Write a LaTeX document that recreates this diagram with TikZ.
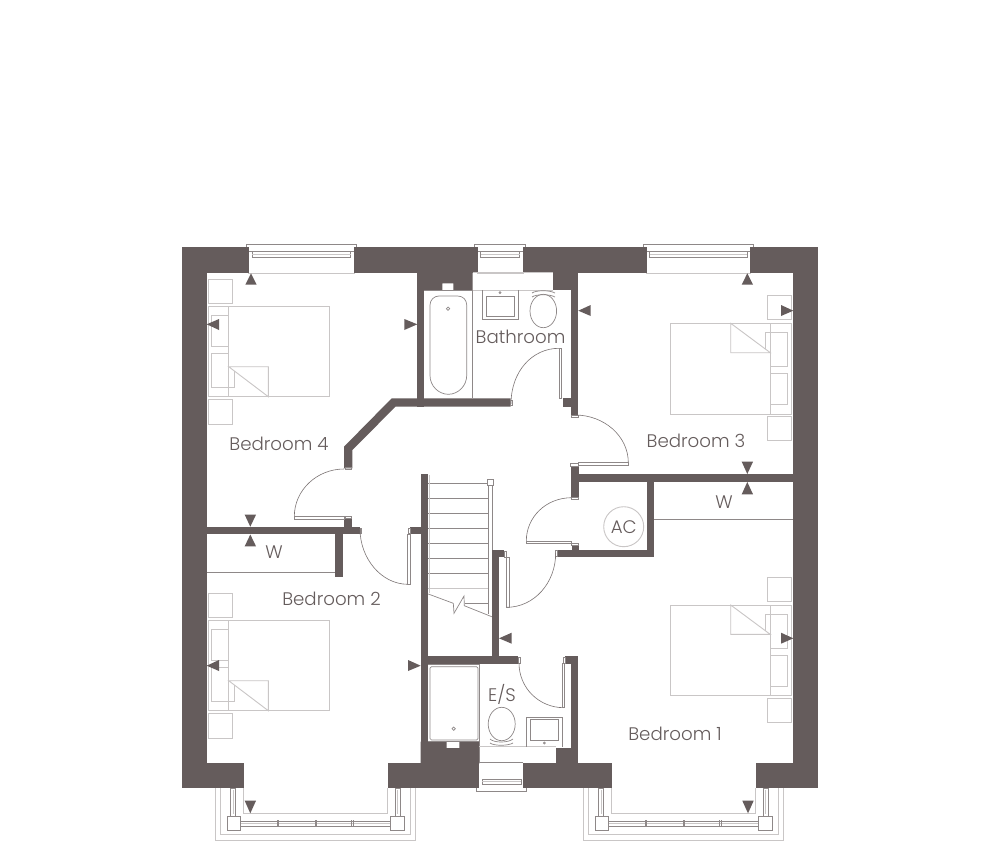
\documentclass[tikz,border=0pt]{standalone}
\usepackage{fontspec}
\setmainfont{Poppins}[UprightFont=* Light]
\definecolor{wallc}{HTML}{655C5C}
\definecolor{linec}{HTML}{8E8888}
\definecolor{lightc}{HTML}{C9C6C6}
\tikzset{
  wallfill/.style={fill=wallc,draw=none},
  thin line/.style={draw=linec,line width=0.7pt},
  arcline/.style={draw=wallc!85!white,line width=0.6pt},
  furn/.style={draw=lightc,line width=0.9pt},
  sani/.style={draw=linec,line width=0.7pt},
  wlight/.style={draw=lightc,line width=0.9pt},
  tri/.style={fill=wallc,draw=none},
  label/.style={text=wallc,font=\fontsize{18.2}{20}\selectfont,inner sep=0pt},
}
\newcommand{\wl}[4]{\fill[wallfill] (#1,#2) rectangle (#3,#4);}
\newcommand{\bedL}[1]{\begin{scope}[yshift=#1pt*-1]
 \draw[furn] (208.3,306) rectangle (329.3,396.7);
 \draw[furn] (228.7,306) -- (228.7,396.7);
 \draw[furn] (228.7,366.7) -- (268.3,366.7) -- (268.3,396.7) -- cycle;
 \draw[furn] (228.7,315) -- (211.3,315) -- (211.3,346.7) -- (228.7,346.7);
 \draw[furn] (228.7,353.3) -- (211.3,353.3) -- (211.3,387.7) -- (234.7,387.7) -- (234.7,371.2);
 \draw[furn] (208.3,279) rectangle (232.7,303.3);
 \draw[furn] (208.3,399.3) rectangle (232.7,424.3);
\end{scope}}
\newcommand{\bedR}[1]{\begin{scope}[yshift=#1pt*-1]
 \draw[furn] (670.3,323.3) rectangle (791.3,414);
 \draw[furn] (770.3,323.3) -- (770.3,414);
 \draw[furn] (730.7,323.3) -- (730.7,352.7) -- (770.3,352.7) -- cycle;
 \draw[furn] (765,349) -- (765,332.3) -- (787.7,332.3) -- (787.7,366.3) -- (770.3,366.3);
 \draw[furn] (770.3,373.3) -- (787.7,373.3) -- (787.7,404.3) -- (770.3,404.3);
 \draw[furn] (767,295.3) rectangle (791.3,319.7);
 \draw[furn] (767,416.3) rectangle (791.3,440.7);
\end{scope}}
\newcommand{\winT}[2]{%
 \draw[thin line] (#1-3,247.3) -- (#1-3,244.3) -- (#2+3,244.3) -- (#2+3,247.3);
 \draw[thin line] (#1,251.7) -- (#2,251.7);
 \draw[thin line] (#1+3,251.7) rectangle (#2-3,257.5);
 \draw[wlight] (#1+3,254.5) -- (#2-3,254.5);
 \draw[wlight] (#1-0.5,247.3) -- (#1-0.5,273.7) -- (#2+0.5,273.7) -- (#2+0.5,247.3);
}
\newcommand{\bay}[1]{\begin{scope}[xshift=#1pt]
 \draw[wlight] (215.3,788) -- (215.3,840.7) -- (415.7,840.7) -- (415.7,788);
 \draw[wlight] (220.3,788) -- (220.3,834.3) -- (410,834.3) -- (410,788);
 \draw[wlight] (243.7,788) -- (243.7,813.3) -- (387.7,813.3) -- (387.7,788);
 \draw[thin line] (227.3,816.7) rectangle (240.7,830);
 \draw[thin line] (390.7,816.7) rectangle (404,830);
 \draw[thin line] (230.7,788) rectangle (235.7,816.7);
 \draw[thin line] (395,788) rectangle (400,816.7);
 \draw[wlight] (233.2,790) -- (233.2,814);
 \draw[wlight] (397.5,790) -- (397.5,814);
 \draw[thin line] (240.7,821) rectangle (390.7,826);
 \draw[wlight] (241,823.5) -- (390,823.5);
 \foreach \tx in {277.3,315,351.7} \draw[thin line] (\tx,820) -- (\tx,827) (\tx+1.5,820) -- (\tx+1.5,827);
\end{scope}}
\begin{document}
\begin{tikzpicture}[x=1pt,y=-1pt]
\useasboundingbox (0,0) rectangle (1000,853);
\fill[white] (0,0) rectangle (1000,853);

% ---------- furniture ----------
\bedL{0}
\bedL{314}
\bedR{0}
\bedR{281.7}

% ---------- windows ----------
\winT{249.3}{353.5}
\winT{477.5}{522.8}
\winT{646.7}{750}
\bay{0}
\bay{368}
\draw[thin line] (476,788) -- (476,791) -- (526.7,791) -- (526.7,788);
\draw[thin line] (479.3,762.3) -- (523.3,762.3);
\draw[thin line] (482,779) rectangle (521,784);
\draw[wlight] (482,781.5) -- (521,781.5);

% ---------- walls ----------
\wl{182}{247.3}{206.5}{788.3}
\wl{182}{247.3}{249.3}{272.5}
\wl{353.5}{247.3}{477.5}{272.5}
\wl{522.8}{247.3}{646.7}{272.5}
\wl{750}{247.3}{818}{272.5}
\wl{793.3}{247.3}{818}{788.3}
\wl{182}{763.3}{243.7}{788.3}
\wl{387.7}{763.3}{479.3}{788.3}
\wl{523.3}{763.3}{611.7}{788.3}
\wl{756}{763.3}{818}{788.3}
\wl{417.3}{272}{424}{406.7}
\fill[wallfill] (417.3,272) -- (472.7,272) -- (472.7,290) -- (453.3,290) -- (453.3,283.3) -- (442.3,283.3) -- (442.3,290) -- (417.3,290) -- cycle;
\fill[wallfill] (510.7,398.3) -- (391.7,398.3) -- (344,446.7) -- (344,468.3) -- (352.3,468.3) -- (352.3,450) -- (395.5,406.7) -- (510.7,406.7) -- cycle;
\wl{553.3}{272}{578.3}{290}
\wl{570.7}{272}{578.3}{415}
\wl{562.7}{398.3}{571}{406.7}
\wl{571}{466.7}{578.7}{497.3}
\wl{571}{474.3}{793.5}{482}
\wl{646.7}{474.3}{654.3}{557.3}
\wl{557.7}{550}{654.3}{557.3}
\wl{571.7}{545}{578.7}{550}
\wl{206.5}{526.7}{360}{534.3}
\wl{335}{526.7}{342.7}{577.3}
\wl{344}{518}{352.3}{527}
\wl{410}{526.7}{421}{534.3}
\wl{420.7}{474}{428.3}{763.3}
\wl{491.7}{550}{499.3}{664}
\wl{491.7}{550}{504}{557.3}
\wl{428}{656}{518.3}{664}
\wl{565}{656}{578.3}{664}
\wl{570.7}{656}{578.3}{763.3}
\wl{555.7}{748}{578.3}{763.3}
\fill[wallfill] (420.7,741.7) -- (446.7,741.7) -- (446.7,748) -- (459.3,748) -- (459.3,741.7) -- (479.3,741.7) -- (479.3,763.5) -- (420.7,763.5) -- cycle;

% ---------- door jambs ----------
\draw[thin line] (504,551) rectangle (506.7,557);
\draw[thin line] (570,463) rectangle (578,466.5);
\draw[thin line] (571.5,415) rectangle (578,417);
\draw[thin line] (345,516.5) rectangle (351.5,518);
\draw[thin line] (345,467.5) rectangle (351.5,469.5);
\draw[thin line] (360,528) rectangle (361.7,533);
\draw[thin line] (408.3,528) rectangle (410,533);
\draw[thin line] (510.7,400) rectangle (512.3,405);
\draw[thin line] (518.3,657.5) rectangle (520,663);
\draw[thin line] (563.3,657.5) rectangle (565,663);
\draw[thin line] (571.7,543.5) rectangle (578,545);
\draw[thin line] (571.7,497.3) rectangle (578,499);
\draw[thin line] (555.5,550.5) rectangle (557.7,556.5);

% ---------- bathroom ----------
\draw[sani] (424,290) -- (472.7,290) -- (472.7,398.3);
\draw[wlight] (472.7,290) -- (553.3,290);
\draw[wlight] (472.7,272.7) -- (553.3,272.7);
\draw[sani] (439,296) -- (457.7,296) .. controls (463,296) and (466.7,300) .. (466.7,305) -- (466.7,375.5) .. controls (466.7,386) and (458,394.3) .. (448.3,394.3) .. controls (438.7,394.3) and (430,386) .. (430,375.5) -- (430,305) .. controls (430,300) and (434,296) .. (439,296) -- cycle;
\draw[sani] (448,308.7) circle (1.7pt);
\draw[sani] (482.3,290) -- (482.3,319) -- (518.7,319) -- (518.7,290);
\draw[sani] (486.3,296.7) rectangle (514.7,316);
\draw[sani] (500,292.7) circle (1pt);
\draw[sani] (543.3,311) ellipse [x radius=13.3pt, y radius=16.7pt];
\draw[sani] (532,293) .. controls (536,290) and (550,290) .. (555,293) (532,297) .. controls (536,294) and (550,294) .. (555,297);

% ---------- en-suite ----------
\draw[sani] (428.3,664) -- (479.3,664) -- (479.3,763);
\draw[sani] (428.3,741.7) -- (479.3,741.7);
\draw[sani,rounded corners=1.5pt] (430,666.7) rectangle (478,740);
\draw[sani] (453.7,728.7) circle (1.7pt);
\draw[wlight] (479.3,746.7) -- (555.7,746.7);
\draw[sani] (526,746.7) -- (526,717.3) -- (562.7,717.3) -- (562.7,746.7);
\draw[sani] (530,719.3) rectangle (558.7,740);
\draw[sani] (544.3,743) circle (1pt);
\draw[sani] (501.7,724) ellipse [x radius=13.5pt, y radius=16.7pt];
\draw[sani] (490,739) .. controls (494,743) and (508,743) .. (513,739) (490,743) .. controls (494,746) and (508,746) .. (513,743);

% ---------- stairs ----------
\foreach \ty in {483.3,498.3,513.3,528.3,543.3,558.7,573.7} \draw[sani] (428.3,\ty) -- (488.3,\ty);
\draw[wlight] (428.3,588) -- (488.3,588);
\draw[sani] (465,603.3) -- (488.3,603.3);
\draw[sani] (488.3,485) -- (488.3,613.5);
\draw[sani] (492.3,485) -- (492.3,550);
\draw[thin line] (487,479.3) rectangle (493.3,485.3);
\draw[wlight] (429.2,475) -- (429.2,593);
\draw[sani] (428.3,594) -- (453.3,603.3) -- (454,613.3) -- (464,596) -- (464.3,605.7) -- (491.7,616.7);

% ---------- wardrobes, AC ----------
\draw[sani] (654.3,519.3) -- (793.3,519.3);
\draw[sani] (206.5,572.3) -- (335,572.3);
\draw[wlight] (623.7,526.7) circle (20pt);

% ---------- doors ----------
\draw[arcline] (559,348.3) .. controls (532.5,348.3) and (511,371) .. (511,404);
\draw[sani] (559,348.3) rectangle (561.7,398.3);
\draw[arcline] (575,415) .. controls (604,415) and (628.3,436) .. (628.3,462.7);
\draw[sani] (578.5,462.7) rectangle (628.3,465.5);
\draw[arcline] (344,469) .. controls (317,469) and (294.3,490) .. (294.3,516.5);
\draw[sani] (294.3,516.5) rectangle (344,519);
\draw[arcline] (360,529) .. controls (360,558) and (381,584.3) .. (408,584.3);
\draw[sani] (407.7,534.3) rectangle (410.3,584.3);
\draw[arcline] (571.7,497.7) .. controls (546,497.7) and (526.3,517) .. (526.3,541);
\draw[sani] (526.3,541) rectangle (571.7,543.5);
\draw[arcline] (555.7,553) .. controls (555.7,583) and (534,607.3) .. (506.7,607.3);
\draw[sani] (506.7,557.3) rectangle (509,607.3);
\draw[arcline] (519,663) .. controls (519,688) and (539,707.7) .. (564,707.7);
\draw[sani] (562.3,663.5) rectangle (564.7,707.7);

% ---------- dimension arrows ----------
\fill[tri] (251,273.3) -- (245.3,284.7) -- (256.7,284.7) -- cycle;
\fill[tri] (206.7,324.3) -- (219,319) -- (219,330) -- cycle;
\fill[tri] (417.3,324.3) -- (404.3,319) -- (404.3,330) -- cycle;
\fill[tri] (578.3,310.7) -- (590.7,305) -- (590.7,316) -- cycle;
\fill[tri] (747.3,273.3) -- (741.7,284.7) -- (753,284.7) -- cycle;
\fill[tri] (793.3,310.7) -- (781,305) -- (781,316) -- cycle;
\fill[tri] (747.3,474) -- (741.7,461.7) -- (753,461.7) -- cycle;
\fill[tri] (747.3,482) -- (741.7,494.3) -- (753,494.3) -- cycle;
\fill[tri] (250.3,526.7) -- (244.7,514.7) -- (256,514.7) -- cycle;
\fill[tri] (250.3,534.5) -- (244.7,546.3) -- (256,546.3) -- cycle;
\fill[tri] (206.7,665.7) -- (219,660) -- (219,671) -- cycle;
\fill[tri] (420.7,665.7) -- (408,660) -- (408,671) -- cycle;
\fill[tri] (499,638.3) -- (511.7,632.7) -- (511.7,643.7) -- cycle;
\fill[tri] (793.3,638.3) -- (781,632.7) -- (781,643.7) -- cycle;
\fill[tri] (250.3,813.3) -- (244.7,800.7) -- (256,800.7) -- cycle;
\fill[tri] (748,813.3) -- (742.3,800.7) -- (753.7,800.7) -- cycle;

% ---------- labels ----------
\node[label] (bed4) at (279,443.5) {Bedroom 4};
\node[label] (bed3) at (696,440.5) {Bedroom 3};
\node[label] (bed2) at (331.5,598.5) {Bedroom 2};
\node[label] (bed1) at (675,733.5) {Bedroom 1};
\node[label] (bath) at (520.5,336.5) {Bathroom};
\node[label] (es) at (502,694) {E/S};
\node[label] (w1) at (724,502) {W};
\node[label] (w2) at (274,552) {W};
\node[label] (ac) at (623.7,527) {AC};
\end{tikzpicture}
\end{document}
